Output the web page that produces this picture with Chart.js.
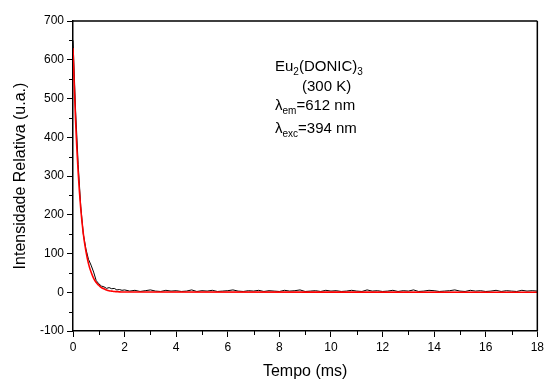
<!DOCTYPE html>
<html>
<head>
<meta charset="utf-8">
<script src="https://cdn.jsdelivr.net/npm/chart.js@4/dist/chart.umd.min.js"></script>
<style>
  html, body { margin: 0; padding: 0; background: #fff; }
  #wrap { width: 547px; height: 383px; }
</style>
</head>
<body>
<div id="wrap"><canvas id="c" width="547" height="383"></canvas></div>
<script>
// Emission decay of Eu2(DONIC)3 at 300 K (λem = 612 nm, λexc = 394 nm)

// Measured decay: early part sampled every 0.1 ms, tail every 0.2 ms
const decayTimeHead = [0, 0.1, 0.2, 0.3, 0.4, 0.5, 0.6, 0.7, 0.8, 0.9, 1.0,
                       1.1, 1.2, 1.3, 1.4, 1.5, 1.6, 1.7, 1.8, 1.9, 2.0];
const decayIntHead  = [650, 470, 330, 222, 150, 112, 85, 70, 52, 30, 22,
                       16, 14, 10, 12, 9, 10, 6, 7, 5, 6];

const decayTimeTail = [
  2.2, 2.4, 2.6, 2.8, 3.0, 3.2, 3.4, 3.6, 3.8, 4.0,
  4.2, 4.4, 4.6, 4.8, 5.0, 5.2, 5.4, 5.6, 5.8, 6.0,
  6.2, 6.4, 6.6, 6.8, 7.0, 7.2, 7.4, 7.6, 7.8, 8.0,
  8.2, 8.4, 8.6, 8.8, 9.0, 9.2, 9.4, 9.6, 9.8, 10.0,
  10.2, 10.4, 10.6, 10.8, 11.0, 11.2, 11.4, 11.6, 11.8, 12.0,
  12.2, 12.4, 12.6, 12.8, 13.0, 13.2, 13.4, 13.6, 13.8, 14.0,
  14.2, 14.4, 14.6, 14.8, 15.0, 15.2, 15.4, 15.6, 15.8, 16.0,
  16.2, 16.4, 16.6, 16.8, 17.0, 17.2, 17.4, 17.6, 17.8, 18.0
];
const decayIntTail = [
  3, 5, 2, 4, 6, 3, 2, 5, 3, 4,
  2, 3, 6, 2, 4, 3, 5, 2, 3, 4,
  6, 3, 2, 4, 3, 5, 2, 4, 3, 2,
  5, 3, 4, 6, 2, 3, 4, 2, 5, 3,
  4, 2, 3, 5, 3, 2, 6, 3, 4, 2,
  3, 5, 2, 4, 3, 6, 2, 3, 5, 4,
  2, 3, 4, 6, 3, 2, 5, 3, 4, 2,
  3, 5, 2, 4, 3, 2, 5, 3, 4, 3
];

// Mono-exponential fit curve
const fitTime = [0, 0.1, 0.2, 0.3, 0.4, 0.5, 0.6, 0.7, 0.8, 0.9, 1.0,
                 1.1, 1.2, 1.3, 1.4, 1.5, 1.6, 1.7, 1.8, 1.9, 2.0, 18];
const fitInt  = [630, 442, 310, 216, 151, 106, 74, 52, 36, 25, 18,
                 12, 9, 6, 4, 3, 2, 1.5, 1, 0.7, 0.5, 0];

// Axis tick ranges
const xTicks = { min: 0, max: 18, major: 2, minor: 1 };
const yTicks = { min: -100, max: 700, major: 100, minor: 50 };

const FONT = "'Liberation Sans', Arial, Helvetica, sans-serif";

const zip = (xs, ys) => xs.map((x, i) => ({ x: x, y: ys[i] }));
const measured = zip(decayTimeHead.concat(decayTimeTail), decayIntHead.concat(decayIntTail));
const fitted = zip(fitTime, fitInt);

// Minor ticks, top/right frame lines and the sample annotation
const decorations = {
  id: 'decorations',
  afterDraw(chart) {
    const { ctx, chartArea: a, scales: { x, y } } = chart;
    ctx.save();
    ctx.strokeStyle = '#000';
    ctx.lineWidth = 1.5;
    // frame top & right
    ctx.beginPath();
    ctx.moveTo(a.left, a.top); ctx.lineTo(a.right, a.top);
    ctx.moveTo(a.right, a.top); ctx.lineTo(a.right, a.bottom);
    ctx.stroke();
    // minor ticks
    ctx.lineWidth = 1;
    ctx.beginPath();
    for (let v = yTicks.min + yTicks.minor; v < yTicks.max; v += yTicks.major) {
      const py = Math.round(y.getPixelForValue(v)) + 0.5;
      ctx.moveTo(a.left - 4, py); ctx.lineTo(a.left, py);
    }
    for (let v = xTicks.min + xTicks.minor; v < xTicks.max; v += xTicks.major) {
      const px = Math.round(x.getPixelForValue(v)) + 0.5;
      ctx.moveTo(px, a.bottom); ctx.lineTo(px, a.bottom + 4);
    }
    ctx.stroke();

    // annotation text
    ctx.fillStyle = '#000';
    ctx.textBaseline = 'alphabetic';
    ctx.textAlign = 'left';
    const big = '15px ' + FONT, small = '10px ' + FONT;
    function run(parts, px, py) {
      let cx = px;
      for (const [t, sub] of parts) {
        ctx.font = sub ? small : big;
        ctx.fillText(t, cx, py + (sub ? 4 : 0));
        cx += ctx.measureText(t).width;
      }
    }
    const tx = a.left + 202;
    run([['Eu', 0], ['2', 1], ['(DONIC)', 0], ['3', 1]], tx, 71);
    run([['(300 K)', 0]], tx + 27, 91);
    run([['λ', 0], ['em', 1], ['=612 nm', 0]], tx, 110);
    run([['λ', 0], ['exc', 1], ['=394 nm', 0]], tx, 133);
    ctx.restore();
  }
};

new Chart(document.getElementById('c'), {
  type: 'line',
  data: {
    datasets: [
      { label: 'Ajuste', data: fitted, borderColor: '#ff0000', borderWidth: 1.6,
        pointRadius: 0, tension: 0.4, order: 0 },
      { label: 'Eu2(DONIC)3', data: measured, borderColor: '#000', borderWidth: 1,
        pointRadius: 0, tension: 0, order: 1 }
    ]
  },
  options: {
    responsive: false,
    animation: false,
    layout: { padding: { top: 21, right: 7, left: 0, bottom: 0 } },
    plugins: { legend: { display: false }, tooltip: { enabled: false } },
    scales: {
      x: {
        type: 'linear', min: xTicks.min, max: xTicks.max,
        afterFit(s) { s.height = 52; },
        ticks: { stepSize: xTicks.major, color: '#000', padding: 3,
                 font: { family: FONT, size: 12 } },
        grid: { drawOnChartArea: false, drawTicks: true, tickLength: 6, tickColor: '#000', tickWidth: 1 },
        border: { display: true, color: '#000', width: 1.5 },
        title: { display: true, text: 'Tempo (ms)', color: '#000',
                 font: { family: FONT, size: 16 }, padding: { top: 0, bottom: 2 } }
      },
      y: {
        type: 'linear', min: yTicks.min, max: yTicks.max,
        afterFit(s) { s.width = 73; },
        ticks: { stepSize: yTicks.major, color: '#000', padding: 3,
                 font: { family: FONT, size: 12 } },
        grid: { drawOnChartArea: false, drawTicks: true, tickLength: 6, tickColor: '#000', tickWidth: 1 },
        border: { display: true, color: '#000', width: 1.5 },
        title: { display: true, text: 'Intensidade Relativa (u.a.)', color: '#000',
                 font: { family: FONT, size: 16 }, padding: { top: 11, bottom: 0 } }
      }
    }
  },
  plugins: [decorations]
});
</script>
</body>
</html>
